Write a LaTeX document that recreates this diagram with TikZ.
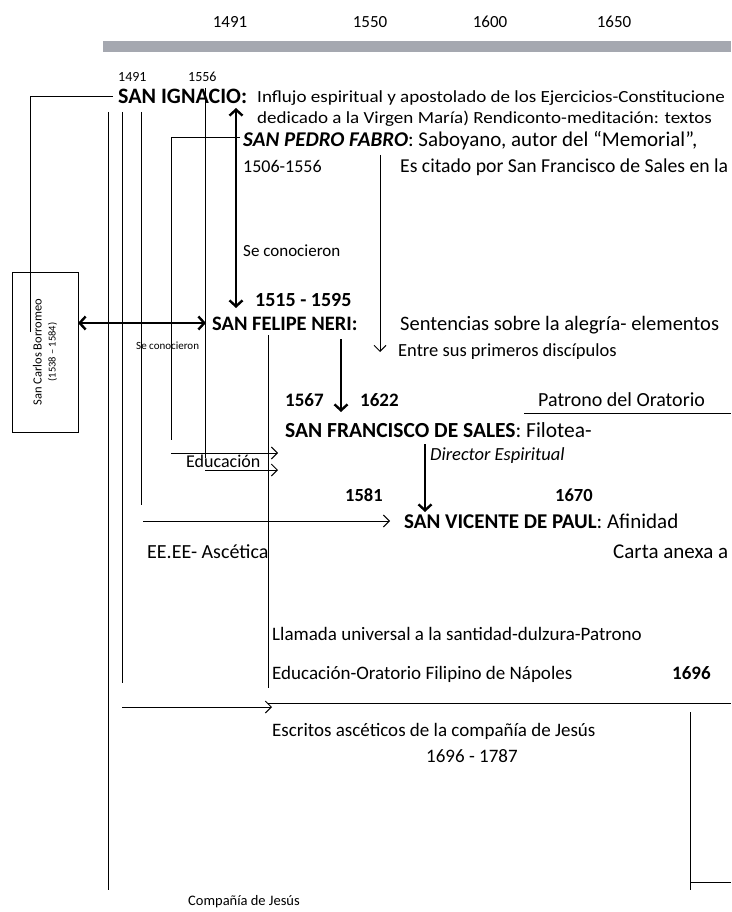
\documentclass[tikz,border=0pt]{standalone}
\usepackage{fontspec}
\setmainfont{Carlito}
\usetikzlibrary{arrows.meta, positioning}
\definecolor{barcolor}{RGB}{165,168,176}

\begin{document}
\begin{tikzpicture}[
    x=1pt, y=-1pt,
    year/.style={anchor=base, inner sep=0pt, font=\fontsize{17}{20}\selectfont},
    txt/.style={anchor=base west, inner sep=0pt, font=\fontsize{19}{22}\selectfont},
    small/.style={txt, font=\fontsize{14}{17}\selectfont},
    wide/.style={txt, font=\fontsize{17}{20}\selectfont, xscale=1.12},
    saint/.style={txt, font=\fontsize{21}{24}\selectfont\bfseries},
    date/.style={txt, font=\fontsize{19}{22}\selectfont\bfseries},
    link/.style={line width=1pt},
    arrow/.style={-{Straight Barb[length=6pt, width=12pt]}, line width=1pt},
    bigarrow/.style={-{Straight Barb[length=6pt, width=13pt]}, line width=2.4pt}
]
\useasboundingbox (0,0) rectangle (731,912);
\clip (0,0) rectangle (731,912);
\fill[barcolor] (103,41) rectangle (731,52);

\node[year] (y1491) at (230,28) {1491};
\node[year] (y1550) at (370,28) {1550};
\node[year] (y1600) at (490,28) {1600};
\node[year] (y1650) at (614,28) {1650};

\node[small] (ign-born) at (118,82) {1491};
\node[small] (ign-died) at (188,82) {1556};
\node[saint, font=\fontsize{22}{25}\selectfont\bfseries] (ignacio) at (118,104) {SAN IGNACIO:};
\node[wide] (ign-t1) at (257,103) {Influjo espiritual y apostolado de los Ejercicios-Constitucione};
\node[wide] (ign-t2) at (257,124) {dedicado a la Virgen María) Rendiconto-meditación: textos};

\node[txt, font=\fontsize{21}{24}\selectfont] (fabro) at (243,147) {\textbf{\textit{SAN PEDRO FABRO}}: Saboyano, autor del “Memorial”,};
\node[txt, font=\fontsize{18}{21}\selectfont] (fabro-d) at (243,172) {1506-1556};
\node[txt, font=\fontsize{19.7}{23}\selectfont] (fabro-t) at (400,172) {Es citado por San Francisco de Sales en la};
\node[txt, font=\fontsize{17}{20}\selectfont] (fabro-met) at (243,256) {Se conocieron};

\node[date, font=\fontsize{20}{23}\selectfont\bfseries] (neri-d) at (255,306) {1515 - 1595};
\node[saint, font=\fontsize{20.5}{24}\selectfont\bfseries] (neri) at (212,330) {SAN FELIPE NERI:};
\node[txt, font=\fontsize{20.5}{24}\selectfont] (neri-t1) at (400,330) {Sentencias sobre la alegría- elementos};
\node[txt, font=\fontsize{18.5}{22}\selectfont] (neri-t2) at (398,356) {Entre sus primeros discípulos};
\node[txt, font=\fontsize{11}{13}\selectfont] (carlos-met) at (136,349) {Se conocieron};

\node[draw, line width=1pt, minimum width=66pt, minimum height=160pt] (carlos) at (45,352) {};
\node[rotate=90, align=center, font=\fontsize{12.5}{14}\selectfont] (carlos-t) at (carlos.center) {San Carlos Borromeo\\\fontsize{10.5}{12}\selectfont(1538 – 1584)};

\node[date] (fran-b) at (285,406) {1567};
\node[date] (fran-d) at (360,406) {1622};
\node[txt, font=\fontsize{20}{23}\selectfont] (oratorio) at (538,406) {Patrono del Oratorio};
\node[saint, font=\fontsize{21.5}{25}\selectfont\bfseries] (francisco) at (285,437) {SAN FRANCISCO DE SALES\mdseries: Filotea-};
\node[txt, font=\fontsize{18.5}{22}\selectfont\itshape] (director) at (430,460) {Director Espiritual};
\node[txt, font=\fontsize{18}{21}\selectfont] (educ) at (186,467) {Educación};

\node[date, font=\fontsize{18.5}{22}\selectfont\bfseries] (vic-b) at (345,501) {1581};
\node[date, font=\fontsize{18.5}{22}\selectfont\bfseries] (vic-d) at (555,501) {1670};
\node[saint, font=\fontsize{21}{24}\selectfont\bfseries] (vicente) at (404,528) {SAN VICENTE DE PAUL\mdseries: Afinidad};
\node[txt, font=\fontsize{20}{23}\selectfont] (ascetica) at (147,558) {EE.EE- Ascética};
\node[txt, font=\fontsize{21}{24}\selectfont] (carta) at (613,558) {Carta anexa a};

\node[txt] (llamada) at (272,640) {Llamada universal a la santidad-dulzura-Patrono};
\node[txt] (napoles) at (272,679) {Educación-Oratorio Filipino de Nápoles};
\node[date] (y1696) at (672,679) {1696};
\node[txt] (escritos) at (272,736) {Escritos ascéticos de la compañía de Jesús};
\node[txt] (escritos-d) at (426,762) {1696 - 1787};
\node[txt, font=\fontsize{14.5}{17}\selectfont] (compania) at (188,905) {Compañía de Jesús};

\coordinate (ign-w) at (113,97);
\coordinate (carlos-in) at (30,332);
\coordinate (l1-top) at (108,112);
\coordinate (l1-bot) at (108,890);
\coordinate (l2-top) at (122,112);
\coordinate (l2-bot) at (122,683);
\coordinate (l2-arr) at (122,707);
\coordinate (escritos-in) at (272,707);
\coordinate (l3-top) at (141,112);
\coordinate (l3-bot) at (141,505);
\coordinate (l3-arr) at (143,521);
\coordinate (vicente-in) at (390,521);
\coordinate (fabro-w) at (240,138);
\coordinate (l4-bot) at (171,440);
\coordinate (l4-arr) at (171,453);
\coordinate (fran-in1) at (278,453);
\coordinate (l5-top) at (205,88);
\coordinate (l5-bot) at (205,458);
\coordinate (l5-arr) at (205,470);
\coordinate (fran-in2) at (278,470);
\coordinate (neri-e) at (268,335);
\coordinate (neri-bot) at (268,688);
\coordinate (ign-up) at (236,108);
\coordinate (neri-up) at (236,308);
\coordinate (carlos-e) at (78,323);
\coordinate (neri-w) at (206,323);
\coordinate (fabro-top) at (380,155);
\coordinate (fabro-bot) at (380,352);
\coordinate (neri-s) at (341,339);
\coordinate (fran-top) at (341,412);
\coordinate (fran-s) at (425,444);
\coordinate (vic-top) at (425,512);
\coordinate (orat-l) at (524,413);
\coordinate (orat-r) at (731,413);
\coordinate (sep-l) at (268,703);
\coordinate (sep-r) at (731,703);
\coordinate (comp-top) at (690,712);
\coordinate (comp-bot) at (690,890);
\coordinate (comp-r) at (731,882);

\draw[link] (ign-w) -| (carlos-in);
\draw[link] (l1-top) -- (l1-bot);
\draw[link] (l2-top) -- (l2-bot);
\draw[arrow] (l2-arr) -- (escritos-in);
\draw[link] (l3-top) -- (l3-bot);
\draw[arrow] (l3-arr) -- (vicente-in);
\draw[link] (fabro-w) -| (l4-bot);
\draw[arrow] (l4-arr) -- (fran-in1);
\draw[link] (l5-top) -- (l5-bot);
\draw[arrow] (l5-arr) -- (fran-in2);
\draw[link] (neri-e) -- (neri-bot);
\draw[bigarrow, {Straight Barb[length=6pt, width=13pt]}-{Straight Barb[length=6pt, width=13pt]}] (ign-up) -- (neri-up);
\draw[bigarrow, {Straight Barb[length=6pt, width=13pt]}-{Straight Barb[length=6pt, width=13pt]}] (carlos-e) -- (neri-w);
\draw[arrow] (fabro-top) -- (fabro-bot);
\draw[bigarrow] (neri-s) -- (fran-top);
\draw[bigarrow] (fran-s) -- (vic-top);
\draw[link] (orat-l) -- (orat-r);
\draw[link] (sep-l) -- (sep-r);
\draw[link] (comp-top) -- (comp-bot);
\draw[link] (comp-r -| comp-top) -- (comp-r);
\end{tikzpicture}
\end{document}
